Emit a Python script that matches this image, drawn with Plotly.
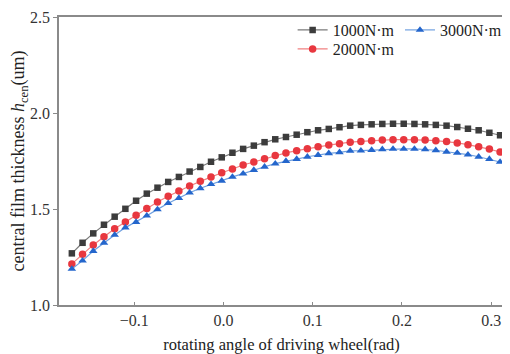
import plotly.graph_objects as go

angle = [-0.170, -0.158, -0.146, -0.134, -0.122, -0.110, -0.098, -0.086, -0.074, -0.062,
         -0.050, -0.038, -0.026, -0.014, -0.002, 0.010, 0.022, 0.034, 0.046, 0.058,
         0.070, 0.082, 0.094, 0.106, 0.118, 0.130, 0.142, 0.154, 0.166, 0.178,
         0.190, 0.202, 0.214, 0.226, 0.238, 0.250, 0.262, 0.274, 0.286, 0.298, 0.310]

h_1000 = [1.269, 1.324, 1.373, 1.418, 1.460, 1.501, 1.543, 1.580, 1.611, 1.641,
          1.667, 1.695, 1.719, 1.746, 1.769, 1.793, 1.813, 1.830, 1.848, 1.863,
          1.875, 1.887, 1.900, 1.910, 1.917, 1.926, 1.934, 1.938, 1.941, 1.943,
          1.944, 1.944, 1.943, 1.941, 1.938, 1.934, 1.927, 1.918, 1.910, 1.897, 1.884]
h_2000 = [1.214, 1.264, 1.313, 1.356, 1.397, 1.432, 1.467, 1.502, 1.536, 1.566,
          1.594, 1.620, 1.644, 1.667, 1.689, 1.708, 1.729, 1.745, 1.762, 1.778,
          1.792, 1.804, 1.814, 1.824, 1.833, 1.840, 1.848, 1.852, 1.856, 1.859,
          1.861, 1.861, 1.861, 1.859, 1.856, 1.851, 1.844, 1.835, 1.824, 1.812, 1.797]
h_3000 = [1.188, 1.231, 1.281, 1.324, 1.365, 1.403, 1.432, 1.465, 1.498, 1.530,
          1.557, 1.585, 1.608, 1.629, 1.647, 1.667, 1.684, 1.703, 1.720, 1.736,
          1.750, 1.760, 1.772, 1.781, 1.790, 1.795, 1.803, 1.804, 1.807, 1.811,
          1.813, 1.813, 1.813, 1.811, 1.806, 1.798, 1.792, 1.783, 1.772, 1.760, 1.745]

series_names = ["1000N\u00b7m", "2000N\u00b7m", "3000N\u00b7m"]
x_ticks = [-0.1, 0.0, 0.1, 0.2, 0.3]
x_tick_text = ["\u22120.1", "0.0", "0.1", "0.2", "0.3"]
y_ticks = [1.0, 1.5, 2.0, 2.5]
y_tick_text = ["1.0", "1.5", "2.0", "2.5"]

FONT = "Liberation Serif"

fig = go.Figure()
fig.add_trace(go.Scatter(x=angle, y=h_1000, name=series_names[0], mode="lines+markers",
                         line=dict(color="#7a7a7a", width=1.2),
                         marker=dict(symbol="square", size=6.5, color="#3c3c3c"),
                         legend="legend"))
fig.add_trace(go.Scatter(x=angle, y=h_2000, name=series_names[1], mode="lines+markers",
                         line=dict(color="#f08080", width=1.2),
                         marker=dict(symbol="circle", size=7.5, color="#e8373f"),
                         legend="legend3"))
fig.add_trace(go.Scatter(x=angle, y=h_3000, name=series_names[2], mode="lines+markers",
                         line=dict(color="#6fa0e0", width=1.2),
                         marker=dict(symbol="triangle-up", size=7.5, color="#2466cc"),
                         legend="legend2"))

axis_common = dict(showgrid=False, zeroline=False, showline=True, linecolor="#8a8a8a",
                   linewidth=1.5, mirror=True, automargin=False,
                   tickfont=dict(family=FONT, size=16, color="#333"),
                   tickcolor="#8a8a8a", tickwidth=1)

fig.update_xaxes(range=[-0.1844, 0.3144], tickvals=x_ticks, ticktext=x_tick_text,
                 ticks="inside", ticklen=3,
                 title=dict(text="rotating angle of driving wheel(rad)", standoff=12,
                            font=dict(family=FONT, size=16.5, color="#222")),
                 **axis_common)
fig.update_yaxes(range=[1.0, 2.5], tickvals=y_ticks, ticktext=y_tick_text,
                 ticks="outside", ticklen=4,
                 title=dict(text="central film thickness <i>h</i><sub>cen</sub>(um)", standoff=12,
                            font=dict(family=FONT, size=18, color="#222")),
                 **axis_common)

legend_common = dict(bgcolor="rgba(0,0,0,0)", borderwidth=0,
                     font=dict(family=FONT, size=16, color="#222"),
                     yanchor="top", tracegroupgap=0,
                     itemwidth=30)
fig.update_layout(
    width=502, height=346,
    margin=dict(l=51, r=3, t=9, b=49),
    paper_bgcolor="white", plot_bgcolor="white",
    showlegend=True,
    legend=dict(x=0.525, y=1.0139, xanchor="left", **legend_common),
    legend3=dict(x=0.525, y=0.948, xanchor="left", **legend_common),
    legend2=dict(x=1.0067, y=1.0139, xanchor="right", **legend_common),
)

fig.write_html("out.html")
